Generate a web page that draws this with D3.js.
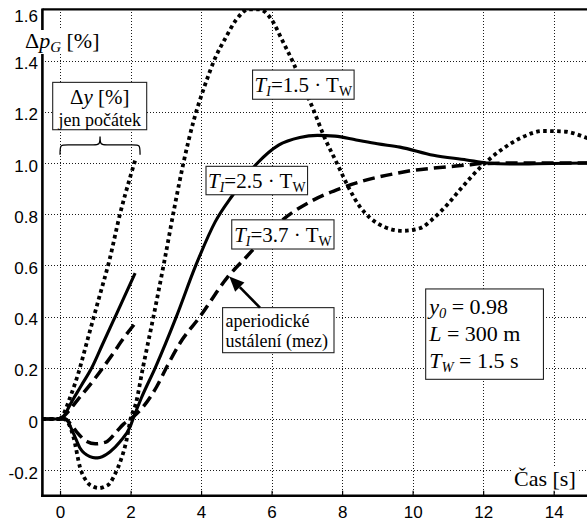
<!DOCTYPE html>
<html><head><meta charset="utf-8">
<script src="https://cdn.jsdelivr.net/npm/d3@7"></script>
<style>
body{margin:0;background:#fff;}
svg{display:block;}
</style></head>
<body>
<svg id="c" width="587" height="522"></svg>
<script>
// ---------- data ----------
const tTicks = [0, 2, 4, 6, 8, 10, 12, 14];
const vTicks = [-0.2, 0, 0.2, 0.4, 0.6, 0.8, 1.0, 1.2, 1.4, 1.6];

// T_I = 1.5 Tw (dotted)
const t15 = [-0.5, 0, 0.1, 0.25, 0.38, 0.57, 0.76, 0.95, 1.1, 1.25, 1.42, 1.56, 1.7, 1.89, 2.0, 2.15, 2.35, 2.65, 2.95, 3.25, 3.5, 3.8, 4.1, 4.4, 4.7, 5.0, 5.35, 5.65, 6.0, 6.3, 6.62, 6.9, 7.18, 7.5, 7.85, 8.2, 8.5, 8.8, 9.2, 9.7, 10.2, 10.6, 11.0, 11.4, 11.9, 12.5, 13.1, 13.7, 14.3, 14.9, 15.0];
const v15 = [0, 0, 0, -0.02, -0.07, -0.19, -0.245, -0.265, -0.27, -0.265, -0.25, -0.215, -0.17, -0.08, 0, 0.06, 0.2, 0.4, 0.61, 0.83, 1.0, 1.17, 1.3, 1.41, 1.49, 1.56, 1.6, 1.6, 1.56, 1.48, 1.39, 1.3, 1.21, 1.1, 1.0, 0.9, 0.83, 0.785, 0.75, 0.735, 0.745, 0.785, 0.84, 0.905, 0.98, 1.05, 1.1, 1.125, 1.123, 1.1, 1.095];

// T_I = 2.5 Tw (solid)
const t25 = [-0.5, 0, 0.15, 0.38, 0.57, 0.85, 1.0, 1.13, 1.42, 1.7, 1.99, 2.07, 2.3, 2.7, 3.3, 3.85, 4.4, 4.9, 5.6, 6.2, 6.8, 7.3, 7.8, 8.4, 9.0, 9.64, 10.59, 11.53, 12.1, 12.8, 13.5, 15.0];
const v25 = [0, 0, 0, -0.056, -0.114, -0.147, -0.152, -0.15, -0.128, -0.089, -0.03, 0, 0.08, 0.2, 0.4, 0.6, 0.77, 0.875, 1.0, 1.07, 1.1, 1.108, 1.105, 1.09, 1.075, 1.062, 1.03, 1.012, 1.0, 0.996, 0.997, 1.0];

// T_I = 3.7 Tw (dashed)
const t37 = [-0.5, 0, 0.15, 0.3, 0.47, 0.76, 1.0, 1.3, 1.6, 1.8, 2.0, 2.36, 2.74, 3.03, 3.4, 3.97, 4.73, 5.29, 6.24, 7.18, 7.94, 8.7, 9.55, 10.1, 10.59, 11.53, 12.0, 13.0, 15.0];
const v37 = [0, 0, 0, -0.02, -0.05, -0.088, -0.097, -0.09, -0.05, -0.02, 0, 0.048, 0.126, 0.204, 0.296, 0.4, 0.55, 0.634, 0.77, 0.855, 0.9, 0.934, 0.96, 0.973, 0.98, 0.992, 0.998, 1.0, 1.0];

// Δy (initial part only)
const tDy15 = [0, 0.1, 0.3, 0.5, 0.8, 1.1, 1.4, 1.7, 2.0, 2.13];
const vDy15 = [0, 0.02, 0.09, 0.17, 0.32, 0.47, 0.62, 0.8, 0.95, 1.01];
const tDy25 = [0, 0.1, 0.3, 0.6, 0.9, 1.2, 1.5, 1.8, 2.13];
const vDy25 = [0, 0.01, 0.06, 0.13, 0.2, 0.29, 0.38, 0.47, 0.57];
const tDy37 = [0, 0.1, 0.5, 1.0, 1.5, 1.8, 2.13];
const vDy37 = [0, 0.01, 0.075, 0.16, 0.255, 0.315, 0.374];

// ---------- layout ----------
const svg = d3.select("#c");
const x = d3.scaleLinear().domain([-0.5, 15]).range([42.4, 42.4 + 15.5 * 35.26]);
const y = d3.scaleLinear().domain([-0.3, 1.6]).range([495.8, 9.4]);
const X0 = x.range()[0], X1 = x.range()[1], Y0 = y.range()[0], Y1 = y.range()[1];

svg.append("rect").attr("width", 587).attr("height", 522).attr("fill", "#fff");

svg.append("defs").append("clipPath").attr("id", "clip")
  .append("rect").attr("x", X0).attr("y", Y1).attr("width", X1 - X0).attr("height", Y0 - Y1);

// grid
const grid = svg.append("g").attr("stroke", "#1a1a1a").attr("stroke-width", 1)
  .attr("stroke-dasharray", "1,2").attr("shape-rendering", "crispEdges");
grid.selectAll(".gx").data(tTicks).join("line")
  .attr("x1", d => Math.round(x(d)) + 0.5).attr("x2", d => Math.round(x(d)) + 0.5)
  .attr("y1", Y1).attr("y2", Y0);
grid.selectAll(".gy").data(vTicks).join("line")
  .attr("y1", d => Math.round(y(d)) + 0.5).attr("y2", d => Math.round(y(d)) + 0.5)
  .attr("x1", X0).attr("x2", X1);

// axes
const fmt = v => v === 0 ? "0" : v.toFixed(1);
const ax = svg.append("g").attr("transform", `translate(0,${Y0})`)
  .call(d3.axisBottom(x).tickValues(tTicks).tickSize(-5).tickPadding(10).tickFormat(d => d));
ax.select(".domain").remove();
ax.selectAll("line").attr("stroke", "#000").attr("stroke-width", 1.2);
ax.selectAll("text").attr("font-family", "Liberation Sans, Arial, sans-serif").attr("font-size", 17).attr("fill", "#000");

const ay = svg.append("g").attr("transform", `translate(${X0},0)`)
  .call(d3.axisLeft(y).tickValues(vTicks).tickSize(0).tickPadding(4.5).tickFormat(fmt));
ay.select(".domain").remove();
ay.selectAll("text").attr("font-family", "Liberation Sans, Arial, sans-serif").attr("font-size", 17).attr("fill", "#000")
  .attr("dy", d => d === 1.6 ? "0.72em" : "0.48em");

// curves
const line = d3.line().x(d => x(d[0])).y(d => y(d[1])).curve(d3.curveMonotoneX);
const zip = (a, b) => a.map((t, i) => [t, b[i]]);
const plot = svg.append("g").attr("clip-path", "url(#clip)").attr("fill", "none").attr("stroke", "#000");
const styles = {
  dot: {w: 3.8, dash: "3.6,3.4"},
  solid: {w: 3.1, dash: null},
  dash: {w: 3.5, dash: "12,6"}
};
const series = [
  [zip(tDy37, vDy37), "dash"],
  [zip(tDy25, vDy25), "solid"],
  [zip(tDy15, vDy15), "dot"],
  [zip(t37, v37), "dash"],
  [zip(t25, v25), "solid"],
  [zip(t15, v15), "dot"]
];
series.forEach(([d, s]) => {
  plot.append("path").attr("d", line(d)).attr("stroke-width", styles[s].w)
    .attr("stroke-dasharray", styles[s].dash).attr("stroke-linejoin", "round");
});

// frame
const frame = svg.append("g").attr("stroke", "#000").attr("fill", "none");
frame.append("line").attr("x1", X0).attr("x2", X1).attr("y1", Y1).attr("y2", Y1).attr("stroke-width", 2.2);
frame.append("line").attr("x1", X0).attr("x2", X0).attr("y1", Y1 - 1).attr("y2", Y0 + 1.3).attr("stroke-width", 2.6);
frame.append("line").attr("x1", X0 - 1.3).attr("x2", X1).attr("y1", Y0).attr("y2", Y0).attr("stroke-width", 2.6);

// ---------- annotations ----------
const serif = "Liberation Serif, Times New Roman, serif";
function richText(g, px, py, parts, size, anchor) {
  const t = g.append("text").attr("x", px).attr("y", py).attr("font-family", serif)
    .attr("font-size", size).attr("fill", "#000").attr("text-anchor", anchor || "start");
  let shifted = false;
  parts.forEach(p => {
    const sp = t.append("tspan").text(p.t);
    if (p.i) sp.attr("font-style", "italic");
    if (p.sub) {
      sp.attr("font-size", p.fs || size * 0.66).attr("dy", shifted ? 0 : 4);
      shifted = true;
    } else {
      if (shifted) sp.attr("dy", -4);
      shifted = false;
      if (p.fs) sp.attr("font-size", p.fs);
    }
  });
  return t;
}
function box(t0, t1, v0, v1) {
  const bx = x(t0), bw = x(t1) - x(t0), by = y(v0), bh = y(v1) - y(v0);
  svg.append("rect").attr("x", bx).attr("y", by).attr("width", bw).attr("height", bh)
    .attr("fill", "#fff").attr("stroke", "#222").attr("stroke-width", 1.1);
  return {cx: bx + bw / 2, cy: by + bh / 2, x: bx, y: by, w: bw, h: bh};
}

// T_I labels
let b = box(5.46, 8.34, 1.363, 1.249);
richText(svg, b.cx, b.cy + 7.5, [{t: "T", i: true}, {t: "I", i: true, sub: true}, {t: "=1.5 · T"}, {t: "W", sub: true}], 21, "middle");
b = box(4.14, 7.02, 0.987, 0.876);
richText(svg, b.cx, b.cy + 7.5, [{t: "T", i: true}, {t: "I", i: true, sub: true}, {t: "=2.5 · T"}, {t: "W", sub: true}], 21, "middle");
b = box(4.87, 7.77, 0.778, 0.664);
richText(svg, b.cx, b.cy + 7.5, [{t: "T", i: true}, {t: "I", i: true, sub: true}, {t: "=3.7 · T"}, {t: "W", sub: true}], 21, "middle");

// aperiodic box + arrow
b = box(4.61, 7.77, 0.435, 0.259);
richText(svg, b.x + 3, b.y + 19, [{t: "aperiodické"}], 18);
richText(svg, b.x + 3, b.y + 39, [{t: "ustálení (mez)"}], 18);
{
  const ax0 = x(5.67), ay0 = y(0.435), ax1 = x(4.80), ay1 = y(0.557);
  const ang = Math.atan2(ay1 - ay0, ax1 - ax0);
  const L = 15, W = 6.5;
  const bxp = ax1 - L * Math.cos(ang), byp = ay1 - L * Math.sin(ang);
  svg.append("line").attr("x1", ax0).attr("y1", ay0).attr("x2", bxp).attr("y2", byp)
    .attr("stroke", "#000").attr("stroke-width", 2.6);
  svg.append("path").attr("fill", "#000").attr("d",
    `M${ax1},${ay1}L${bxp + W * Math.sin(ang)},${byp - W * Math.cos(ang)}L${bxp - W * Math.sin(ang)},${byp + W * Math.cos(ang)}Z`);
}

// parameters box
b = box(10.37, 13.71, 0.508, 0.155);
richText(svg, b.x + 3.5, b.y + 25, [{t: "y", i: true}, {t: "0", i: true, sub: true}, {t: " = 0.98"}], 22);
richText(svg, b.x + 3.5, b.y + 52, [{t: "L", i: true}, {t: " = 300 m"}], 22);
richText(svg, b.x + 3.5, b.y + 79, [{t: "T", i: true}, {t: "W", i: true, sub: true}, {t: " = 1.5 s"}], 22);

// Δy box and brace
b = box(-0.208, 2.458, 1.315, 1.130);
richText(svg, b.cx, b.y + 22, [{t: "Δ"}, {t: "y", i: true}, {t: " [%]"}], 21, "middle");
richText(svg, b.cx, b.y + 43.5, [{t: "jen počátek"}], 18, "middle");
{
  const bl = x(0), br = x(2.27), bm = (bl + br) / 2;
  const ym = y(1.071), yt = y(1.104), ye = y(1.032);
  svg.append("path").attr("fill", "none").attr("stroke", "#000").attr("stroke-width", 1.3)
    .attr("d", `M${bl},${ye} C${bl},${ym} ${bl},${ym} ${bl + 8},${ym} L${bm - 7},${ym} C${bm - 1},${ym} ${bm},${ym} ${bm},${yt}` +
      ` C${bm},${ym} ${bm + 1},${ym} ${bm + 7},${ym} L${br - 8},${ym} C${br},${ym} ${br},${ym} ${br},${ye}`);
}

// axis titles (white background)
function titled(px, py, parts, size) {
  const g = svg.append("g");
  const t = richText(g, px, py, parts, size);
  const bb = t.node().getBBox();
  g.insert("rect", "text").attr("x", bb.x - 1).attr("y", bb.y + 2).attr("width", bb.width + 2).attr("height", bb.height - 3).attr("fill", "#fff");
}
titled(25, 48, [{t: "Δ"}, {t: "p", i: true}, {t: "G", i: true, sub: true, fs: 15}, {t: " [%]"}], 22);
titled(514, 486, [{t: "Čas [s]"}], 22);
</script>
</body></html>
